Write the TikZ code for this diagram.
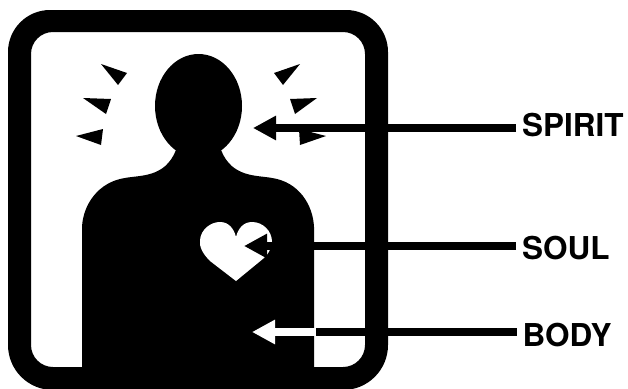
\documentclass[tikz,border=0pt]{standalone}
\usepackage{fontspec}
\setmainfont{TeX Gyre Heros}
\usetikzlibrary{arrows.meta}
\tikzset{
  lab/.style={anchor=west,inner xsep=6pt,inner ysep=0pt,font=\fontsize{31.5}{31.5}\selectfont\bfseries,text=black},
  pointer/.style={line width=8pt,-{Triangle[length=23pt,width=23pt]},shorten >=0pt},
  ray/.style={fill=black,draw=none}
}
\begin{document}
\begin{tikzpicture}[x=1pt,y=-1pt]
\useasboundingbox (0,0) rectangle (628,388);
\clip (0,0) rectangle (628,388);
% frame
\fill[black,even odd rule]
  (8,200) [rounded corners=42pt] -- (8,10) -- (388,10) [rounded corners=45pt] -- (388,390) -- (8,390) [sharp corners] -- cycle
  (31,200) [rounded corners=22pt] -- (31,32) -- (365,32) -- (365,367) -- (31,367) [sharp corners] -- cycle;
% figure
\fill[black] (198.5,106) ellipse[x radius=43.5,y radius=52];
\fill[black] (82,370) -- (82,227)
  .. controls (83,205) and (98,182) .. (125,178)
  .. controls (140,175) and (165,178) .. (176,150)
  -- (221,150)
  .. controls (232,178) and (257,175) .. (272,178)
  .. controls (299,182) and (313,205) .. (314,227)
  -- (314,370) -- cycle;
% rays
\fill[ray] (101,64) -- (127,73) -- (118,85) -- cycle;
\fill[ray] (83,98) -- (111,99) -- (106,114) -- cycle;
\fill[ray] (76,136) -- (103,129) -- (101,145) -- cycle;
\fill[ray] (300,64) -- (274,73) -- (283,85) -- cycle;
\fill[ray] (317,98) -- (290,99) -- (295,114) -- cycle;
\fill[ray] (326,136) -- (299,129) -- (300,145) -- cycle;
% heart
\fill[white] (236,281)
  -- (210,261)
  .. controls (203,254) and (199,247) .. (200,240)
  .. controls (201,229) and (211,222) .. (220,222)
  .. controls (229,222) and (234,229) .. (236,237)
  .. controls (238,229) and (243,222) .. (252,222)
  .. controls (263,222) and (272,231) .. (272,242)
  .. controls (271,250) and (268,254) .. (264,258)
  -- cycle;
% labels
\node[lab] (spirit) at (516,125) {SPIRIT};
\node[lab] (soul) at (516,248) {SOUL};
\node[lab] (bodyl) at (516.5,335) {BODY};
\coordinate (tipS) at (253,128);
\coordinate (tipH) at (244,246);
\coordinate (tipB) at (252,332);
\coordinate (edgeB) at (316,332);
\draw[pointer] (spirit.west |- tipS) -- (tipS);
\draw[pointer] (soul.west |- tipH) -- (tipH);
\draw[line width=8pt] (bodyl.west |- tipB) -- (edgeB);
\draw[pointer,white] (edgeB) -- (tipB);
\end{tikzpicture}
\end{document}
